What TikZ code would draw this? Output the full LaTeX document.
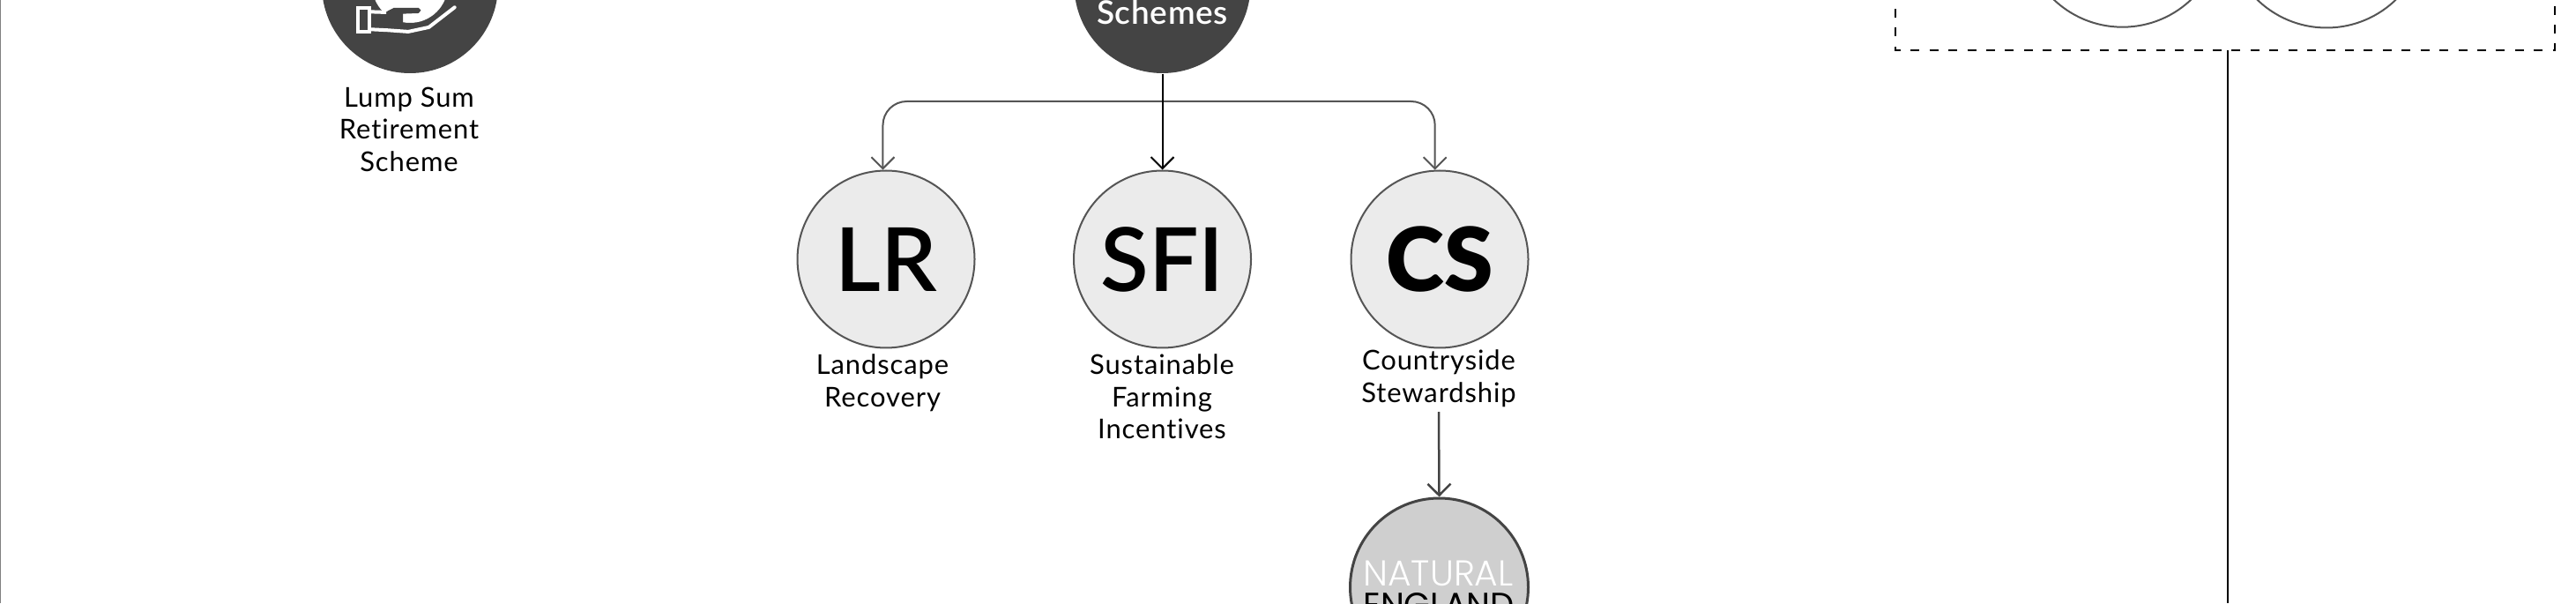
\documentclass[tikz,border=0pt]{standalone}
\usepackage{fontspec}
\usetikzlibrary{arrows.meta}
\setmainfont[LetterSpace=3,Ligatures=NoCommon]{Lato}
\newfontfamily\bigfont[UprightFont=* Semibold]{Lato}
\newfontfamily\nefont[UprightFont=* Light]{Poppins}
\newfontfamily\nebold[LetterSpace=-1]{Poppins}
\tikzset{
  >={Straight Barb[length=0.13cm,width=0.26cm]},
  darkdisc/.style={circle,fill=discdark,minimum size=2cm,inner sep=0},
  letterdisc/.style={circle,draw=edgegray,line width=0.02cm,fill=discpale,minimum size=2.01cm,inner sep=0,
    font=\bigfont\fontsize{28.5}{30}\selectfont},
  emptydisc/.style={circle,draw=edgegray,line width=0.02cm,minimum size=2.26cm,inner sep=0},
  caption/.style={align=center,inner sep=0,font=\fontsize{8.8}{10.4}\selectfont},
  bus/.style={draw=edgegray,line width=0.02cm,rounded corners=0.27cm},
  feed/.style={draw=black,line width=0.02cm,->},
}
\definecolor{discdark}{HTML}{444444}
\definecolor{discpale}{HTML}{EBEBEB}
\definecolor{discgray}{HTML}{CFCFCF}
\definecolor{edgegray}{HTML}{555555}
\begin{document}
\begin{tikzpicture}
  \useasboundingbox (0,0) rectangle (29.22,6.84);
  \draw[gray,line width=0.02cm] (0,0) -- (0,6.84);
  % lump sum
  \node[darkdisc] (lump) at (4.65,7.01) {};
  \fill[white] (4.65,7.01) circle (0.43);
  \begin{scope}[shift={(3.80,6.84)},xscale=0.00333,yscale=-0.00333]
    \fill[discdark] (118,45) -- (175,40) -- (200,27) -- (285,27) -- (293,35) -- (285,45) -- (232,47) -- (232,78)
      -- (315,78) -- (395,25) -- (320,90) -- (250,100) -- (120,92) -- cycle;
    \draw[white,line width=0.04cm,line cap=round,line join=round] (120,100) -- (180,103) -- (250,108) -- (320,93) -- (408,25);
    \draw[white,line width=0.04cm] (78,28) rectangle (116,108);
    \draw[white,line width=0.04cm] (116,40) -- (175,42);
  \end{scope}
  \node[caption,anchor=north] (lumplabel) at (4.64,5.86) {Lump Sum\\Retirement\\Scheme};
  % schemes
  \node[darkdisc] (schemes) at (13.185,7.01) {};
  \node[anchor=base,text=white,inner sep=0,font=\bigfont\addfontfeature{LetterSpace=2}\fontsize{10.5}{12}\selectfont] (schemestxt) at (13.185,6.56) {Schemes};
  \node[letterdisc] (lr) at (10.05,3.90) {LR};
  \node[letterdisc] (sfi) at (13.185,3.90) {SFI};
  \node[letterdisc] (cs) at (16.33,3.90) {\bfseries CS};
  \node[caption,anchor=north] (lrlabel) at (10.01,2.83) {Landscape\\Recovery};
  \node[caption,anchor=north] (sfilabel) at (13.18,2.83) {Sustainable\\Farming\\Incentives};
  \node[caption,anchor=north] (cslabel) at (16.32,2.88) {Countryside\\Stewardship};
  \coordinate (busmid) at (13.18,5.69);
  \draw[bus,->] (busmid) -| (lr.92);
  \draw[bus,->] (busmid) -| (cs.93);
  \draw[feed] (schemes.south) -- (sfi.north);
  % natural england
  \node[circle,draw=discdark,line width=0.03cm,fill=discgray,minimum size=2.02cm,inner sep=0] (ne) at (16.325,0.18) {};
  \node[anchor=base,text=white,inner sep=0,font=\nefont\fontsize{11.6}{13}\selectfont] (netop) at (16.315,0.20) {NATURAL};
  \node[anchor=base,inner sep=0,font=\nebold\fontsize{10.9}{13}\selectfont] (nebot) at (16.32,-0.15) {ENGLAND};
  \draw[feed,draw=discdark,line width=0.025cm] (cslabel.south) ++(0,-0.05) coordinate (csfoot) (csfoot) -- (ne.north);
  % dashed box
  \node[emptydisc] (boxa) at (24.075,7.663) {};
  \node[emptydisc] (boxb) at (26.39,7.655) {};
  \draw[line width=0.02cm,dash pattern=on 0.10cm off 0.1142cm] (21.50,6.954) -- (21.50,6.27) -- (28.98,6.27) -- (28.98,6.954);
  \coordinate (boxfoot) at (25.27,6.27);
  \coordinate (downend) at (25.27,0);
  \draw[line width=0.02cm] (boxfoot) -- (downend);
\end{tikzpicture}
\end{document}
